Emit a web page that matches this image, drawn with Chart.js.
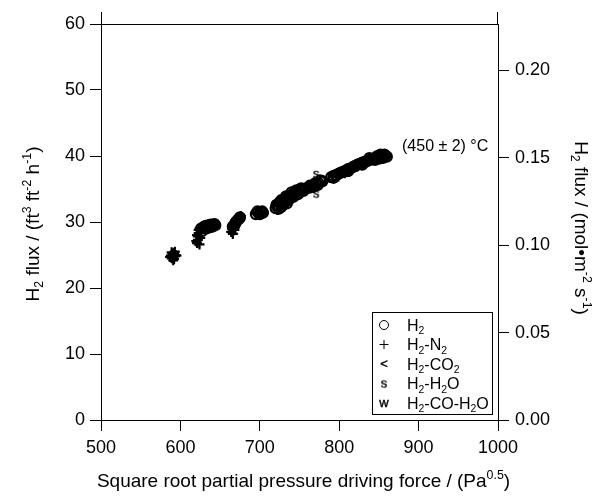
<!DOCTYPE html>
<html>
<head>
<meta charset="utf-8">
<script src="https://cdn.jsdelivr.net/npm/chart.js@4.4.1/dist/chart.umd.min.js"></script>
<style>
  html, body { margin: 0; padding: 0; background: #fff; }
  canvas { display: block; }
</style>
</head>
<body>
<canvas id="fluxChart" width="614" height="496"></canvas>
<script>
// --- Data ---
const X_TICKS = [500, 600, 700, 800, 900, 1000];
const Y_TICKS = [0, 10, 20, 30, 40, 50, 60];
const Y2_TICKS = [0, 0.05, 0.10, 0.15, 0.20];
const FLUX_CONV = 0.003777; // ft3/(ft2 h) of H2 -> mol/(m2 s)

// H2 (open circles)
const h2X = [626, 629, 632, 635, 638, 641, 644, 632, 637, 627, 630, 634, 640, 643,
             666, 669, 672, 675, 670, 674, 668,
             695, 698, 701, 704, 697, 700, 703,
             720, 723, 726, 729, 732, 735, 738, 741, 744, 747, 750, 753, 756, 724, 730, 736, 742, 748,
             721, 725, 727, 731, 733, 737, 740, 743, 746, 749, 752, 755, 758, 734, 727,
             762, 765, 768, 771, 774, 777, 763, 767, 770, 773, 776, 779,
             790, 796, 802, 808, 814, 820, 826, 832, 838, 843, 847, 851, 855, 858, 860, 845, 850, 855,
             793, 799, 805, 811, 817, 823, 829, 835, 841, 847, 853, 857, 852, 848, 793, 811, 829, 838];
const h2Y = [29.0, 29.2, 29.4, 29.5, 29.6, 29.6, 29.5, 29.0, 29.2, 28.6, 29.3, 29.2, 29.3, 29.7,
             29.3, 29.8, 30.3, 30.7, 30.0, 30.5, 29.5,
             31.2, 31.4, 31.5, 31.4, 31.6, 31.2, 31.6,
             32.1, 32.5, 32.9, 33.2, 33.5, 33.8, 34.0, 34.2, 34.4, 34.6, 34.7, 34.9, 35.0, 32.0, 32.7, 33.3, 33.8, 34.2,
             32.6, 33.0, 32.3, 33.0, 33.9, 33.6, 34.5, 34.0, 34.8, 34.4, 35.1, 34.7, 35.1, 32.8, 33.3,
             35.2, 35.4, 35.6, 35.8, 35.9, 36.1, 35.5, 35.3, 35.9, 35.6, 36.3, 36.2,
             36.8, 37.1, 37.5, 37.8, 38.1, 38.5, 38.8, 39.1, 39.4, 39.6, 39.8, 39.9, 40.0, 40.0, 39.9, 39.4, 39.6, 39.7,
             37.0, 37.3, 37.6, 38.0, 38.3, 38.7, 39.0, 39.2, 39.5, 39.6, 39.8, 40.2, 40.2, 40.0, 36.7, 37.7, 38.7, 39.7];

// H2-N2 (plus)
const h2n2X = [588, 589, 590, 590, 591, 592, 592, 593, 594, 591, 589, 593, 587, 595,
               621, 622, 622, 623, 623, 624, 621, 625, 620, 624,
               664, 665, 667, 670, 673, 676, 668, 666, 671,
               699, 702,
               722, 727, 733, 739, 758, 764,
               792, 797, 801, 805, 809, 813, 817, 821, 825, 829, 833, 837, 841, 845, 849, 853, 857,
               799, 807, 815, 823, 831];
const h2n2Y = [24.9, 24.5, 25.2, 24.7, 25.0, 24.4, 25.3, 24.8, 25.0, 24.2, 25.4, 25.5, 24.7, 24.9,
               26.8, 27.3, 27.8, 28.3, 28.8, 29.0, 28.0, 27.6, 27.1, 26.6,
               28.5, 29.0, 29.4, 29.9, 30.4, 30.9, 28.8, 28.2, 30.5,
               31.2, 31.6,
               31.8, 32.4, 33.0, 33.6, 34.9, 35.1,
               36.9, 37.1, 37.4, 37.6, 37.9, 38.1, 38.3, 38.6, 38.8, 39.0, 39.3, 39.4, 39.6, 39.8, 40.0, 40.1, 40.1,
               36.9, 37.4, 37.9, 38.4, 38.9];

// H2-CO2 ("<")
const h2co2X = [621, 664, 668];
const h2co2Y = [26.6, 28.4, 28.6];

// H2-H2O ("s")
const h2h2oX = [771, 771];
const h2h2oY = [37.3, 34.3];

// H2-CO-H2O ("w")
const h2coh2oX = [728, 742];
const h2coh2oY = [32.4, 34.0];

const FONT = "'Liberation Sans', Arial, sans-serif";

// --- Helpers ---

// small canvas holding a text character, used as a point style
function makeGlyph(ch) {
    const c = document.createElement('canvas');
    c.width = 14; c.height = 14;
    const g = c.getContext('2d');
    g.fillStyle = '#000';
    g.strokeStyle = '#000';
    g.lineWidth = 0.4;
    g.font = `13px ${FONT}`;
    g.textAlign = 'center';
    g.textBaseline = 'middle';
    g.fillText(ch, 7, 7);
    g.strokeText(ch, 7, 7);
    return c;
}

function toPoints(xs, ys) {
    return xs.map((x, i) => ({ x: x, y: ys[i] }));
}

// draws text with sub/superscript parts, centred on (x, y), optionally rotated
function drawRich(ctx, parts, x, y, size, angle) {
    const small = size * 0.65;
    let total = 0;
    parts.forEach(p => {
        ctx.font = `${p[1] === 'n' ? size : small}px ${FONT}`;
        p.w = ctx.measureText(p[0]).width;
        total += p.w;
    });
    ctx.save();
    ctx.translate(x, y);
    ctx.rotate(angle || 0);
    ctx.fillStyle = '#000';
    ctx.textBaseline = 'alphabetic';
    ctx.textAlign = 'left';
    let cx = -total / 2;
    const base = size * 0.36;
    parts.forEach(p => {
        let dy = 0;
        if (p[1] === 'sub') dy = size * 0.22;
        if (p[1] === 'sup') dy = -size * 0.42;
        ctx.font = `${p[1] === 'n' ? size : small}px ${FONT}`;
        ctx.fillText(p[0], cx, base + dy);
        cx += p.w;
    });
    ctx.restore();
    return total;
}

function drawRichLeft(ctx, parts, x, y, size) {
    const small = size * 0.65;
    let w = 0;
    parts.forEach(p => {
        ctx.font = `${p[1] === 'n' ? size : small}px ${FONT}`;
        w += ctx.measureText(p[0]).width;
    });
    drawRich(ctx, parts, x + w / 2, y, size, 0);
}

const glyphLt = makeGlyph('<');
const glyphS = makeGlyph('s');
const glyphW = makeGlyph('w');

// order: lower numbers are painted last (on top)
const series = [
    { label: [['H', 'n'], ['2', 'sub']], style: 'circle', order: 3, data: toPoints(h2X, h2Y) },
    { label: [['H', 'n'], ['2', 'sub'], ['-N', 'n'], ['2', 'sub']], style: 'cross', order: 2, data: toPoints(h2n2X, h2n2Y) },
    { label: [['H', 'n'], ['2', 'sub'], ['-CO', 'n'], ['2', 'sub']], style: glyphLt, order: 1, data: toPoints(h2co2X, h2co2Y) },
    { label: [['H', 'n'], ['2', 'sub'], ['-H', 'n'], ['2', 'sub'], ['O', 'n']], style: glyphS, order: 0, data: toPoints(h2h2oX, h2h2oY) },
    { label: [['H', 'n'], ['2', 'sub'], ['-CO-H', 'n'], ['2', 'sub'], ['O', 'n']], style: glyphW, order: 1, data: toPoints(h2coh2oX, h2coh2oY) }
];

// --- Frame, titles, annotation and legend ---
const decorPlugin = {
    id: 'decor',
    afterDraw(chart) {
        const ctx = chart.ctx;
        const a = chart.chartArea;
        ctx.save();
        ctx.strokeStyle = '#000';
        ctx.lineWidth = 1;
        ctx.beginPath();
        ctx.moveTo(a.left, a.top + 0.5);
        ctx.lineTo(a.right, a.top + 0.5);
        ctx.moveTo(a.left + 0.5, a.top - 12);
        ctx.lineTo(a.left + 0.5, a.top);
        ctx.moveTo(a.right - 0.5, a.top - 12);
        ctx.lineTo(a.right - 0.5, a.top);
        ctx.stroke();

        // axis titles
        drawRich(ctx, [['Square root partial pressure driving force / (Pa', 'n'], ['0.5', 'sup'], [')', 'n']],
            (a.left + a.right) / 2 + 4, 480, 19, 0);
        drawRich(ctx, [['H', 'n'], ['2', 'sub'], [' flux / (ft', 'n'], ['3', 'sup'], [' ft', 'n'], ['-2', 'sup'],
            [' h', 'n'], ['-1', 'sup'], [')', 'n']], 32, 224, 19, -Math.PI / 2);
        drawRich(ctx, [['H', 'n'], ['2', 'sub'], [' flux / (mol\u2022m', 'n'], ['-2', 'sup'], [' s', 'n'], ['-1', 'sup'],
            [')', 'n']], 582, 228, 19, Math.PI / 2);

        // temperature note
        ctx.fillStyle = '#000';
        ctx.font = `16px ${FONT}`;
        ctx.textAlign = 'left';
        ctx.textBaseline = 'middle';
        ctx.fillText('(450 \u00b1 2) \u00b0C', 402, 147);

        // legend box
        const lx = 372, ly = 312, lw = 120, lh = 102;
        ctx.lineWidth = 1;
        ctx.strokeRect(lx + 0.5, ly + 0.5, lw, lh);
        ctx.fillStyle = 'rgba(0,0,0,0)';
        series.forEach((s, i) => {
            const ry = 325 + i * 19.5;
            Chart.helpers.drawPoint(ctx, { pointStyle: s.style, radius: 4.5, borderWidth: 1, rotation: 0 }, 384, ry);
            drawRichLeft(ctx, s.label, 407, ry, 16);
        });
        ctx.restore();
    }
};

// --- Chart ---
const axisCommon = {
    grid: { drawOnChartArea: false, drawTicks: true, tickLength: 11, color: '#000', tickWidth: 1 },
    border: { display: true, color: '#000', width: 1 },
    ticks: { color: '#000', font: { family: FONT, size: 18 }, padding: 5 }
};

new Chart(document.getElementById('fluxChart'), {
    type: 'scatter',
    data: {
        datasets: series.map(s => ({
            data: s.data,
            order: s.order,
            pointStyle: s.style,
            pointRadius: 5,
            pointBorderWidth: 2.2,
            borderColor: '#000',
            backgroundColor: 'rgba(0,0,0,0)',
            yAxisID: 'y'
        }))
    },
    options: {
        responsive: false,
        animation: false,
        devicePixelRatio: 1,
        layout: { padding: { top: 24, left: 0, right: 0, bottom: 0 } },
        plugins: { legend: { display: false }, tooltip: { enabled: false } },
        scales: {
            x: {
                ...axisCommon,
                type: 'linear', position: 'bottom', min: 500, max: 1000,
                afterBuildTicks: s => { s.ticks = X_TICKS.map(v => ({ value: v })); },
                ticks: { ...axisCommon.ticks, maxRotation: 0, padding: 6, callback: v => String(v) },
                afterFit: s => { s.height = 76; }
            },
            y: {
                ...axisCommon,
                type: 'linear', position: 'left', min: 0, max: 60,
                afterBuildTicks: s => { s.ticks = Y_TICKS.map(v => ({ value: v })); },
                ticks: { ...axisCommon.ticks, callback: v => String(v) },
                afterFit: s => { s.width = 101; }
            },
            y2: {
                ...axisCommon,
                type: 'linear', position: 'right', min: 0, max: 60 * FLUX_CONV,
                afterBuildTicks: s => { s.ticks = Y2_TICKS.map(v => ({ value: v })); },
                ticks: { ...axisCommon.ticks, padding: 6, callback: v => v.toFixed(2) },
                afterFit: s => { s.width = 116; }
            }
        }
    },
    plugins: [decorPlugin]
});
</script>
</body>
</html>
